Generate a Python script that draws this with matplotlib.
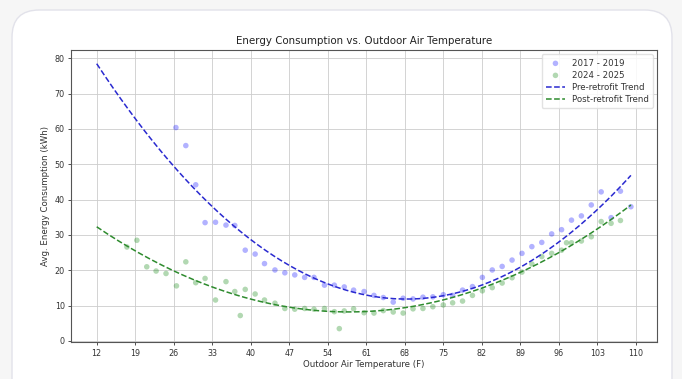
import numpy as np
import matplotlib
matplotlib.use("Agg")
import matplotlib.pyplot as plt
from matplotlib.patches import FancyBboxPatch

# ---- data ----
temps_pre = [26.4, 28.2, 30.0, 31.7, 33.6, 35.5, 37.1, 39.0, 40.8, 42.5, 44.4, 46.2,
             48.0, 49.8, 51.5, 53.4, 55.2, 57.0, 58.7, 60.6, 62.4, 64.1, 65.9, 67.7,
             69.5, 71.3, 73.1, 75.0, 76.7, 78.5, 80.3, 82.1, 83.9, 85.7, 87.5, 89.3,
             91.1, 92.9, 94.7, 96.5, 98.3, 100.1, 101.9, 103.7, 105.5, 107.2, 109.1]
energy_pre = [60.4, 55.3, 44.2, 33.5, 33.6, 32.8, 32.7, 25.7, 24.6, 21.9, 20.1, 19.3,
              18.7, 18.0, 18.0, 15.8, 15.8, 15.3, 14.4, 14.0, 12.9, 12.3, 11.0, 12.1,
              11.9, 12.4, 12.5, 13.1, 12.9, 14.4, 15.4, 18.0, 20.1, 21.1, 22.9, 24.8,
              26.7, 27.9, 30.3, 31.5, 34.2, 35.4, 38.5, 42.2, 34.9, 42.4, 38.0]

temps_post = [17.5, 19.3, 21.1, 22.8, 24.6, 26.5, 28.2, 30.0, 31.7, 33.6, 35.5, 37.1,
              38.1, 39.0, 40.8, 42.5, 44.4, 46.2, 48.0, 49.8, 51.5, 53.4, 55.2, 56.1,
              57.0, 58.7, 60.6, 62.4, 64.1, 65.9, 67.7, 69.5, 71.3, 73.1, 75.0, 76.7,
              78.5, 80.3, 82.1, 83.9, 85.7, 87.5, 89.3, 91.1, 92.9, 94.7, 96.5, 97.4,
              98.3, 100.1, 101.9, 103.7, 105.5, 107.2]
energy_post = [26.6, 28.5, 21.0, 19.8, 19.1, 15.6, 22.4, 16.5, 17.7, 11.6, 16.8, 14.0,
               7.2, 14.6, 13.3, 11.6, 10.7, 9.2, 9.0, 9.2, 9.0, 9.2, 8.3, 3.5,
               8.5, 9.1, 8.0, 7.9, 8.6, 8.2, 7.9, 9.1, 9.2, 9.7, 10.2, 10.8,
               11.3, 12.9, 14.2, 15.1, 16.4, 17.9, 19.5, 21.8, 23.9, 24.8, 25.7, 27.8,
               27.8, 28.3, 29.5, 33.8, 33.3, 34.1]

# quadratic trend coefficients (a, b, c) estimated from the reference trend curves
pre_trend_coef = [0.02102, -2.871, 109.9]
post_trend_coef = [0.01149, -1.328, 46.6]
trend_range = [12, 109.1]

x_ticks = [12, 19, 26, 33, 40, 47, 54, 61, 68, 75, 82, 89, 96, 103, 110]
y_ticks = [0, 10, 20, 30, 40, 50, 60, 70, 80]

labels = ["2017 - 2019", "2024 - 2025", "Pre-retrofit Trend", "Post-retrofit Trend"]

# ---- figure ----
W, H = 682, 379
fig = plt.figure(figsize=(W / 100, H / 100), dpi=100)
fig.patch.set_facecolor("#f6f6f6")
card = FancyBboxPatch((12 / W, -0.1), (672 - 12) / W, (379 - 10) / H + 0.1,
                      boxstyle="round,pad=0,rounding_size=0.04",
                      transform=fig.transFigure, facecolor="white",
                      edgecolor="#e2e2ea", linewidth=1.0, zorder=-5,
                      mutation_aspect=W / H)
fig.patches.append(card)

ax = fig.add_axes([71 / W, 1 - 342.3 / H, (657.3 - 71) / W, (342.3 - 50) / H])
ax.set_zorder(2)
ax.set_facecolor("white")

ax.scatter(temps_pre, energy_pre, s=16, color="blue", alpha=0.3,
           edgecolors="none", label=labels[0], zorder=3)
ax.scatter(temps_post, energy_post, s=16, color="green", alpha=0.3,
           edgecolors="none", label=labels[1], zorder=3)

xs = np.linspace(trend_range[0], trend_range[1], 200)
ax.plot(xs, np.polyval(pre_trend_coef, xs), "--", color="#2a2ad0", lw=1.1,
        label=labels[2], zorder=4)
ax.plot(xs, np.polyval(post_trend_coef, xs), "--", color="#2e8b2e", lw=1.1,
        label=labels[3], zorder=4)

ax.set_xticks(x_ticks)
ax.set_yticks(y_ticks)
ax.set_xlim(7.33, 113.9)
ax.set_ylim(-0.37, 82.35)
ax.tick_params(labelsize=5.8, colors="#333333", length=2.5, width=0.6, pad=2)
ax.grid(True, color="#cccccc", linewidth=0.6)
ax.set_axisbelow(True)
for sp in ax.spines.values():
    sp.set_color("#555555")
    sp.set_linewidth(0.8)

ax.set_title("Energy Consumption vs. Outdoor Air Temperature", fontsize=7.4,
             color="#222222", pad=4)
ax.set_xlabel("Outdoor Air Temperature (F)", fontsize=6.2, color="#333333", labelpad=2)
ax.set_ylabel("Avg. Energy Consumption (kWh)", fontsize=6.2, color="#333333", labelpad=3)

leg = ax.legend(loc="upper right", fontsize=6.2, frameon=True, framealpha=0.85,
                edgecolor="#dddddd", handlelength=2.2, borderpad=0.5,
                labelspacing=0.35, markerscale=1.0)
for t in leg.get_texts():
    t.set_color("#333333")

fig.savefig("out.png", dpi=100, facecolor=fig.get_facecolor())
